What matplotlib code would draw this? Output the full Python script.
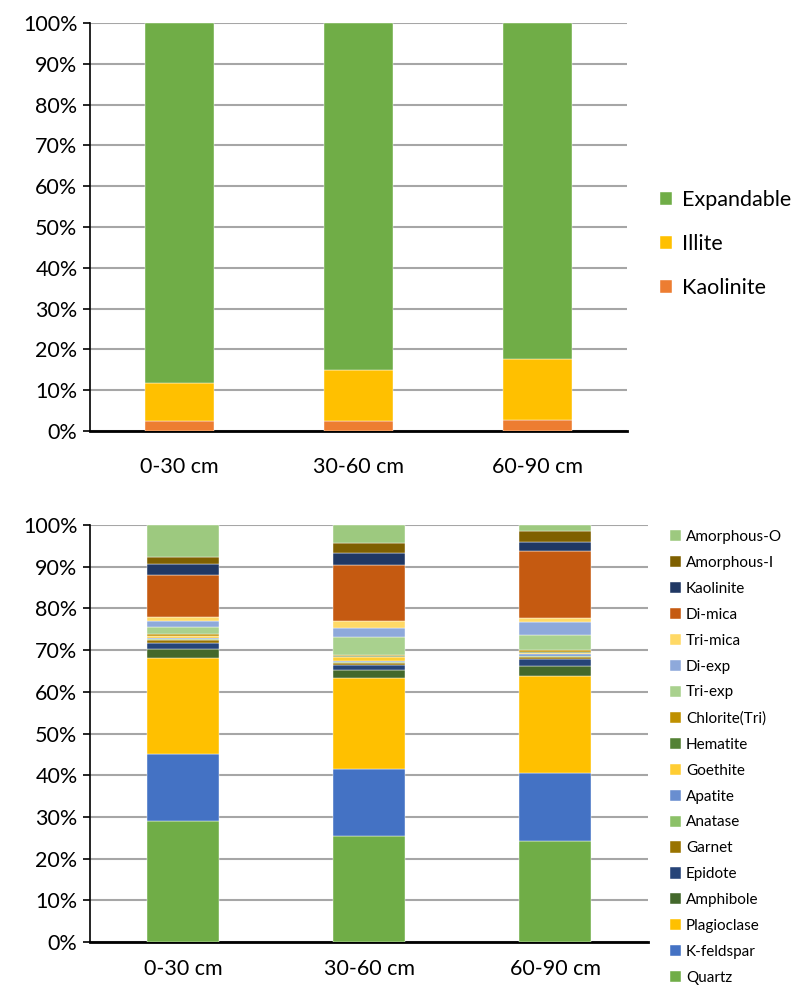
import matplotlib.pyplot as plt
import numpy as np
from matplotlib.ticker import PercentFormatter

plt.rcParams['font.family'] = ['Lato', 'DejaVu Sans']

depths = ['0-30 cm', '30-60 cm', '60-90 cm']

# clay fraction (%)
clay_names = ['Kaolinite', 'Illite', 'Expandable']
clay_kaolinite = [2.5, 2.5, 2.8]
clay_illite = [9.3, 12.5, 14.8]
clay_expandable = [88.2, 85.0, 82.4]
clay_colors = ['#ED7D31', '#FFC000', '#70AD47']

# bulk mineralogy (%), bottom to top of the stack
minerals = ['Quartz', 'K-feldspar', 'Plagioclase', 'Amphibole', 'Epidote',
            'Garnet', 'Anatase', 'Apatite', 'Goethite', 'Hematite',
            'Chlorite(Tri)', 'Tri-exp', 'Di-exp', 'Tri-mica', 'Di-mica',
            'Kaolinite', 'Amorphous-I', 'Amorphous-O']
quartz = [28.9, 25.5, 24.2]
k_feldspar = [16.3, 16.0, 16.4]
plagioclase = [22.8, 21.8, 23.3]
amphibole = [2.2, 1.9, 2.2]
epidote = [1.6, 1.3, 1.7]
garnet = [0.6, 0.5, 0.5]
anatase = [0.2, 0.2, 0.4]
apatite = [0.2, 0.2, 0.3]
goethite = [0.5, 0.9, 0.3]
hematite = [0.2, 0.2, 0.3]
chlorite_tri = [0.4, 0.3, 0.4]
tri_exp = [1.6, 4.4, 3.7]
di_exp = [1.5, 2.2, 3.0]
tri_mica = [1.0, 1.5, 1.1]
di_mica = [10.1, 13.4, 15.9]
kaolinite = [2.6, 3.0, 2.2]
amorphous_i = [1.6, 2.5, 2.6]
amorphous_o = [7.7, 4.2, 1.5]
mineral_colors = ['#70AD47', '#4472C4', '#FFC000', '#43682B', '#264478',
                  '#997300', '#8CC168', '#698ED0', '#FFCD33', '#548235',
                  '#BF9000', '#A9D18E', '#8EA9DB', '#FFD966', '#C55A11',
                  '#203864', '#7F6000', '#9DC97F']

clay = [clay_kaolinite, clay_illite, clay_expandable]
bulk = [quartz, k_feldspar, plagioclase, amphibole, epidote, garnet, anatase,
        apatite, goethite, hematite, chlorite_tri, tri_exp, di_exp, tri_mica,
        di_mica, kaolinite, amorphous_i, amorphous_o]

W, H = 802, 986
fig = plt.figure(figsize=(W / 100, H / 100), dpi=100)
ax1 = fig.add_axes([90 / W, 1 - 431 / H, (627 - 90) / W, (431 - 23) / H])
ax2 = fig.add_axes([90 / W, 1 - 942 / H, (648 - 90) / W, (942 - 525) / H])


def stacked(ax, series, names, colors, width, xpad):
    x = np.arange(len(depths))
    bottom = np.zeros(len(depths))
    for vals, name, c in zip(series, names, colors):
        ax.bar(x, vals, width, bottom=bottom, color=c, label=name,
               edgecolor='white', linewidth=0.3, zorder=3)
        bottom += np.array(vals)
    ax.set_xlim(-0.5, len(depths) - 0.5)
    ax.set_ylim(0, 100)
    ax.set_yticks(np.arange(0, 101, 10))
    ax.yaxis.set_major_formatter(PercentFormatter(decimals=0))
    ax.set_xticks(x)
    ax.set_xticklabels(depths)
    ax.grid(axis='y', color='#A6A6A6', linewidth=1.5, zorder=0)
    for s in ['top', 'right']:
        ax.spines[s].set_visible(False)
    ax.spines['left'].set_color('black')
    ax.spines['left'].set_linewidth(1.2)
    ax.spines['bottom'].set_linewidth(2.0)
    ax.tick_params(axis='y', length=5, width=1.2, labelsize=15.5, pad=4)
    ax.tick_params(axis='x', length=0, labelsize=15.5, pad=xpad)


stacked(ax1, clay, clay_names, clay_colors, 0.39, 19)
stacked(ax2, bulk, minerals, mineral_colors, 0.39, 12)

h, l = ax1.get_legend_handles_labels()
fig.legend(h[::-1], l[::-1], loc='upper left', bbox_to_anchor=(660 / W, 1 - 190 / H),
           frameon=False, fontsize=15.5, handlelength=0.55, handleheight=0.55,
           handletextpad=0.45, labelspacing=1.12, borderpad=0, borderaxespad=0)

h, l = ax2.get_legend_handles_labels()
fig.legend(h[::-1], l[::-1], loc='upper left', bbox_to_anchor=(670 / W, 1 - 530 / H),
           frameon=False, fontsize=11, handlelength=0.75, handleheight=0.75,
           handletextpad=0.3, labelspacing=0.78, borderpad=0, borderaxespad=0)

fig.savefig('out.png', dpi=100)
